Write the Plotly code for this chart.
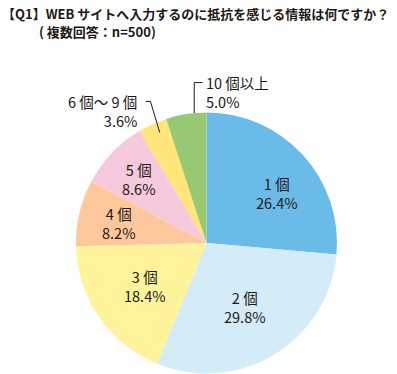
import math
import plotly.graph_objects as go

categories = ["1 個", "2 個", "3 個", "4 個", "5 個", "6 個～ 9 個", "10 個以上"]
values = [26.4, 29.8, 18.4, 8.2, 8.6, 3.6, 5.0]
value_labels = ["26.4%", "29.8%", "18.4%", "8.2%", "8.6%", "3.6%", "5.0%"]
colors = ["#6bbbe9", "#d4ecf8", "#fff49c", "#fdc99c", "#f6c9dc", "#ffe57a", "#97c973"]

title_line1 = "【Q1】WEB サイトへ入力するのに抵抗を感じる情報は何ですか？"
title_line2 = "( 複数回答：n=500)"

W, H = 397, 374
CX, CY, R = 206.5, 243.0, 130.5
FONT = "Noto Sans CJK JP, Noto Sans, sans-serif"
TXT = "#231815"
LABEL_SIZE = 14.5

def px(x):
    return x / W

def py(y):
    return 1 - y / H

fig = go.Figure(go.Pie(
    labels=categories, values=values, sort=False, direction="clockwise",
    rotation=0, marker=dict(colors=colors, line=dict(width=0)),
    textinfo="none", hoverinfo="label+percent", showlegend=False,
    domain=dict(x=[px(CX - R), px(CX + R)], y=[py(CY + R), py(CY - R)]),
))

total = sum(values)
cum = []
c = 0
for v in values:
    cum.append(c)
    c += v

def angle_at(i, frac):
    return (cum[i] + frac * values[i]) / total * 2 * math.pi

def pt(theta, r):
    return CX + r * math.sin(theta), CY - r * math.cos(theta)

annotations = []
shapes = []

def label(x, y, i, anchor):
    annotations.append(dict(x=px(x), y=py(y), text=f"{categories[i]}<br>{value_labels[i]}",
                            showarrow=False, align=anchor,
                            xref="paper", yref="paper", xanchor=anchor, yanchor="middle",
                            font=dict(family=FONT, size=LABEL_SIZE, color=TXT)))

# inside labels: (anchor fraction along slice, radial fraction)
inside_style = [(0.57, 0.667), (0.5, 0.57), (0.5, 0.575), (0.5, 0.69), (0.5, 0.72)]
for i, (fa, rf) in enumerate(inside_style):
    x, y = pt(angle_at(i, fa), rf * R)
    label(x, y + 0.5, i, "center")

line_style = dict(color="#231815", width=1)

# 6-9 label (index 5)
ex, ey = pt(angle_at(5, 0.62), 0.92 * R)
ax, ay = ex - 9.3, ey - 31
bx = ax - 4.7
shapes.append(dict(type="path", xref="paper", yref="paper",
                   path=f"M {px(ex)} {py(ey)} L {px(ax)} {py(ay)} L {px(bx)} {py(ay)}",
                   line=line_style))
label(bx - 7, ay + 9.5, 5, "right")

# 10+ label (index 6)
ex, ey = pt(angle_at(6, 0.7), R)
ay = ey - 30.5
bx = ex + 8.4
shapes.append(dict(type="path", xref="paper", yref="paper",
                   path=f"M {px(ex)} {py(ey)} L {px(ex)} {py(ay)} L {px(bx)} {py(ay)}",
                   line=line_style))
label(bx + 1, ay + 9, 6, "left")

# title
annotations.append(dict(x=px(0), y=py(13), text=f"<b>{title_line1}</b>", showarrow=False,
                        xref="paper", yref="paper", xanchor="left", yanchor="middle",
                        font=dict(family=FONT, size=13, color=TXT)))
annotations.append(dict(x=px(37), y=py(31), text=f"<b>{title_line2}</b>", showarrow=False,
                        xref="paper", yref="paper", xanchor="left", yanchor="middle",
                        font=dict(family=FONT, size=13, color=TXT)))

fig.update_layout(width=W, height=H, margin=dict(l=0, r=0, t=0, b=0),
                  paper_bgcolor="white", plot_bgcolor="white",
                  annotations=annotations, shapes=shapes)

fig.write_html("out.html", config={"displayModeBar": False},
               post_script="document.body.style.margin='0';")
